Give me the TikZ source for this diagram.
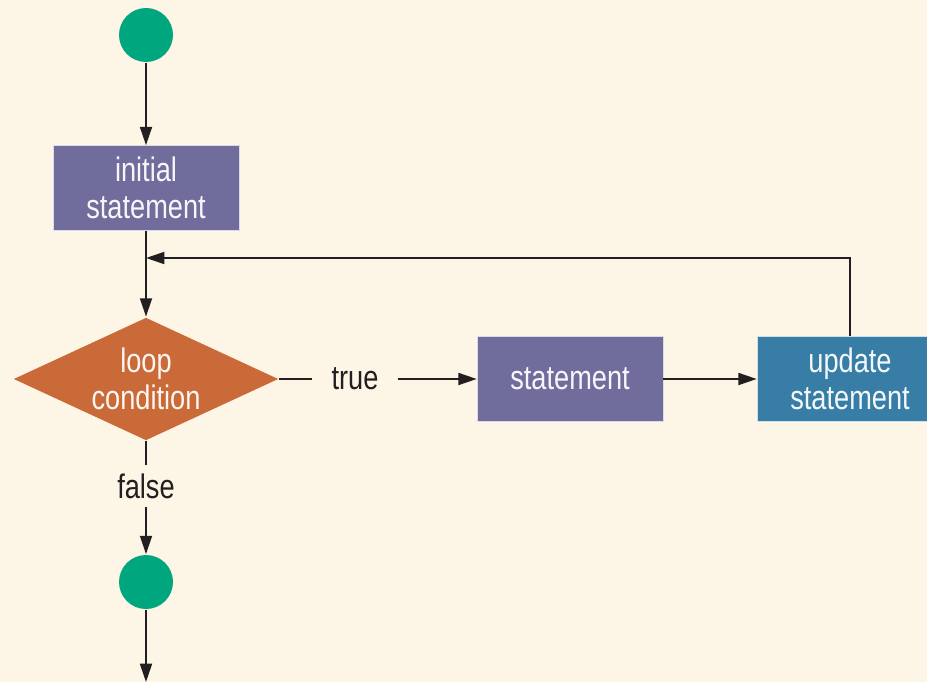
\documentclass[tikz,border=0pt]{standalone}
\usepackage{fontspec}
\setmainfont{Liberation Sans}[FakeStretch=0.8]
\usetikzlibrary{shapes.geometric,arrows.meta}
\definecolor{bgcream}{HTML}{FDF5E6}
\definecolor{dotgreen}{HTML}{00A67E}
\definecolor{boxpurple}{HTML}{706C9C}
\definecolor{condorange}{HTML}{C96A38}
\definecolor{updblue}{HTML}{377DA6}
\definecolor{inkgray}{HTML}{231F20}
\tikzset{
	termdot/.style={circle,fill=dotgreen,minimum size=1.62cm,inner sep=0pt},
	stmtbox/.style={rectangle,fill=boxpurple,draw=white!75!boxpurple,line width=0.5pt,text=white!94!boxpurple,minimum width=5.58cm,minimum height=2.55cm,align=center},
	condbox/.style={diamond,fill=condorange,text=white!94!condorange,minimum width=7.95cm,minimum height=3.69cm,inner sep=0pt,shape aspect=2.15,align=center},
	lbl/.style={text=inkgray,inner ysep=0.24cm,inner xsep=0.55cm},
}
\begin{document}
\begin{tikzpicture}[x=0.03cm,y=-0.03cm,>={Stealth[inset=0pt,length=0.55cm,width=0.36cm]},line width=1.5pt,color=inkgray,font=\fontsize{29}{31.5}\selectfont]
	\fill[bgcream] (0,0) rectangle (927,682);
	\clip (0,0) rectangle (927,682);
	% nodes
	\node[termdot] (start) at (146,35) {};
	\node[stmtbox] (init) at (146,188) {initial\\statement};
	\node[condbox] (cond) at (146,379) {loop\\condition};
	\node[lbl] (truelbl) at (355,379) {true};
	\node[stmtbox] (stmt) at (570,379) {statement};
	\node[stmtbox,fill=updblue,draw=white!75!updblue,text=white!94!updblue] (upd) at (850,379) {update\\statement};
	\node[lbl] (falselbl) at (146,486) {false};
	\node[termdot] (stop) at (146,582) {};
	\coordinate (back) at (146,258);
	\coordinate (out) at (146,682);
	% connectors
	\draw[->] (start) -- (init);
	\draw[->] (init) -- (cond);
	\draw (cond) -- (truelbl);
	\draw[->] (truelbl) -- (stmt);
	\draw[->] (stmt) -- (upd);
	\draw[->] (upd.north) |- (back);
	\draw (cond) -- (falselbl);
	\draw[->] (falselbl) -- (stop);
	\draw[->] (stop) -- (out);
\end{tikzpicture}
\end{document}
